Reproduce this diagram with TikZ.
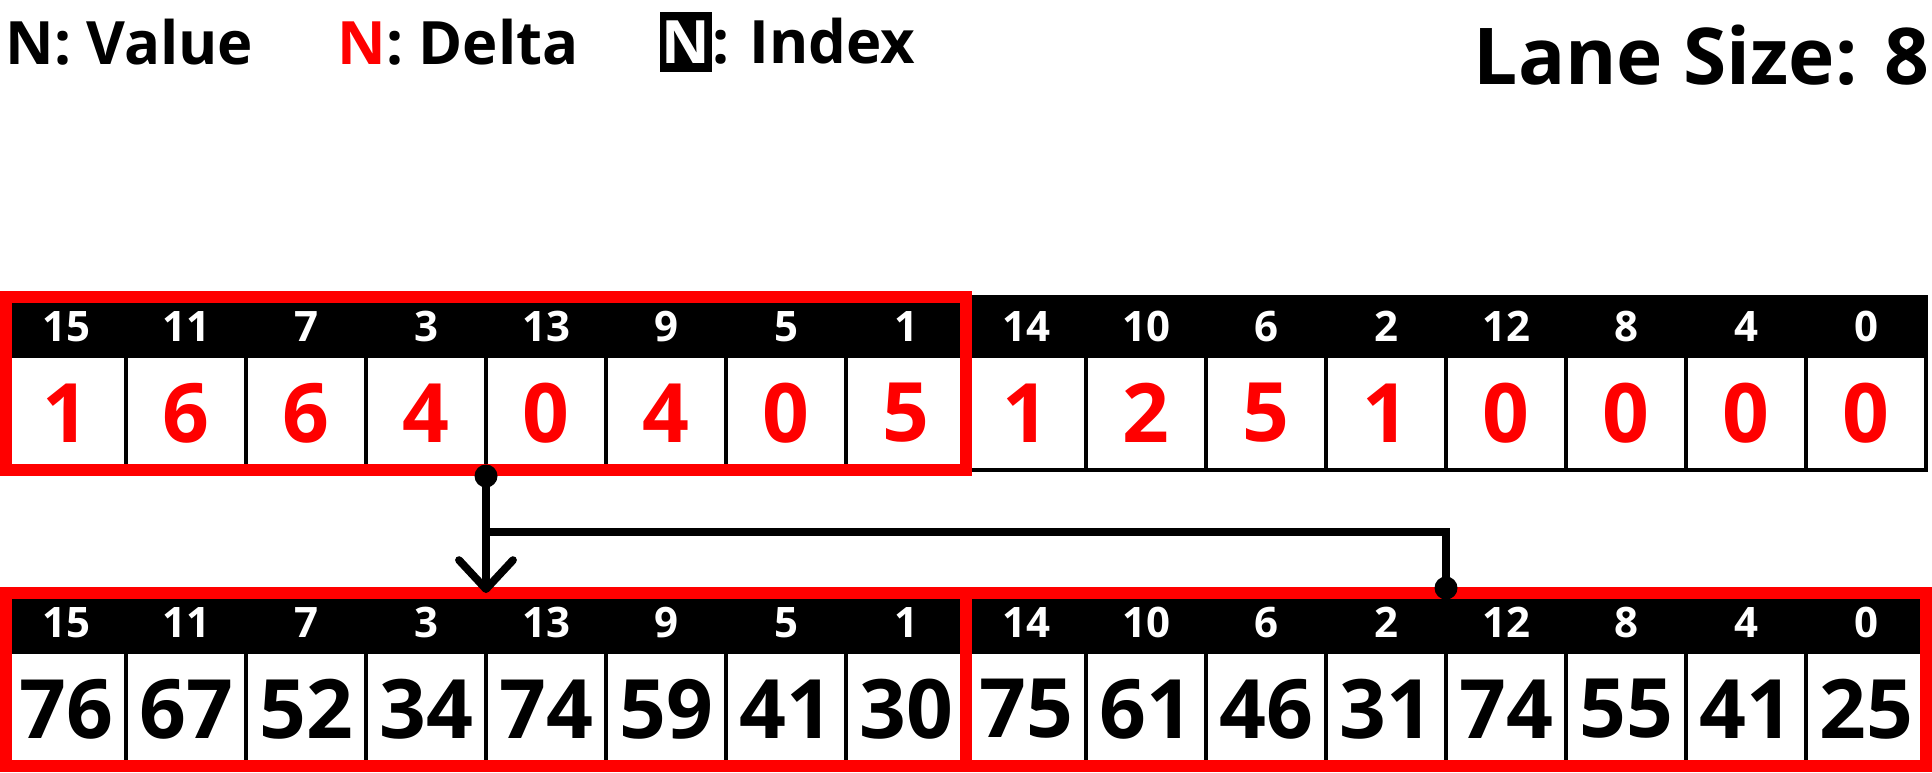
\documentclass[tikz,border=0pt]{standalone}
\usepackage{fontspec}
\setmainfont{Open Sans}
\usetikzlibrary{arrows.meta,calc}
\definecolor{lred}{RGB}{255,0,0}
\begin{document}
\begin{tikzpicture}[x=0.5pt,y=-0.5pt,
  hcell/.style={fill=black,draw=black,line width=2pt,minimum width=60pt,minimum height=29.5pt,inner sep=0pt,outer sep=0pt,anchor=north west,text=white,font=\bfseries\fontsize{21}{21}\selectfont},
  vcell/.style={fill=white,draw=black,line width=2pt,minimum width=60pt,minimum height=57pt,inner sep=0pt,outer sep=0pt,anchor=north west,font=\bfseries\fontsize{41}{41}\selectfont},
  delta/.style={vcell,text=lred},
  redbox/.style={draw=lred,line width=6pt},
  conn/.style={draw=black,line width=3.9pt},
  dot/.style={circle,fill=black,inner sep=0pt,minimum size=11.5pt},
  legend/.style={anchor=base west,inner sep=0pt,font=\bfseries\fontsize{29.9}{29.9}\selectfont}
]
\useasboundingbox (0,0) rectangle (1932,772);
% legend
\node[legend] (lv) at (5,64) {N: Value};
\node[legend] (ld) at (337,64) {\textcolor{lred}{N}: Delta};
\node[fill=black,text=white,inner sep=0pt,outer sep=0pt,minimum width=25.8pt,minimum height=30pt,font=\bfseries\fontsize{29.9}{29.9}\selectfont] (ibox) at (685.8,42) {N};
\node[legend] (li) at (ibox.base east) {: Index};
\node[anchor=base east,inner sep=0pt,font=\bfseries\fontsize{39.2}{39.2}\selectfont] (lane) at (1930,84) {Lane Size: 8};
% rows
\foreach \ix/\d/\v [count=\k from 0] in {15/1/76,11/6/67,7/6/52,3/4/34,13/0/74,9/4/59,5/0/41,1/5/30,14/1/75,10/2/61,6/5/46,2/1/31,12/0/74,8/0/55,4/0/41,0/0/25} {
  \node[hcell] (th\k) at ({6+120*\k},297) {\ix};
  \node[delta] (t\k) at ({6+120*\k},356) {\d};
  \node[hcell] (bh\k) at ({6+120*\k},593) {\ix};
  \node[vcell] (b\k) at ({6+120*\k},652) {\v};
}
% red groups
\draw[redbox] (th0.north west) rectangle (t7.south east);
\draw[redbox] (bh0.north west) rectangle (b7.south east);
\draw[redbox] (bh8.north west) rectangle (b15.south east);
% connectors
\node[dot] (d1) at ($(t4.south west)+(0,6)$) {};
\node[dot] (d2) at ($(bh12.north west)+(0,-5)$) {};
\coordinate (tip) at (bh4.north west);
\coordinate (br) at ($(t4.south west)+(0,62)$);
\draw[conn,-{Straight Barb[length=14.5pt,width=27pt,round]}] (d1.center) -- (tip);
\draw[conn] (br) -| (d2.center);
\end{tikzpicture}
\end{document}
